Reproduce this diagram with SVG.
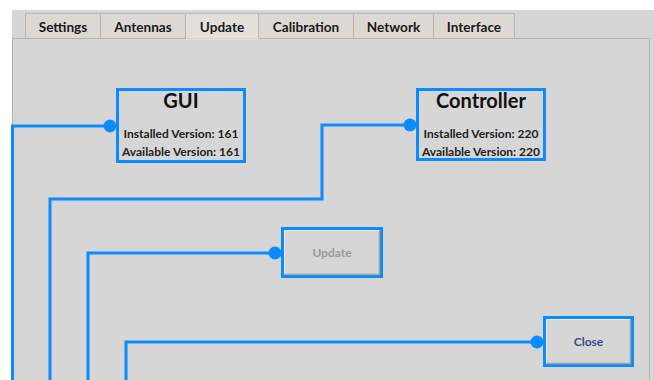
<svg xmlns="http://www.w3.org/2000/svg" width="654" height="380" viewBox="0 0 654 380">
  <style>
    .tab { fill: #dcd9d5; stroke: #b9b6b2; stroke-width: 1; }
    .tab-sel { fill: #e3e0dc; stroke: #b9b6b2; stroke-width: 1; }
    .tabtxt { font-family: Lato, "Liberation Sans", sans-serif; font-weight: bold; font-size: 13.6px; fill: #1a1a1a; text-anchor: middle; }
    .node { fill: #d6d6d6; stroke: #0a8cff; stroke-width: 3; }
    .title { font-family: Lato, "Liberation Sans", sans-serif; font-weight: bold; font-size: 20px; fill: #111; text-anchor: middle; }
    .info { font-family: Lato, "Liberation Sans", sans-serif; font-weight: bold; font-size: 12px; fill: #222; text-anchor: middle; }
    .btn { font-family: Lato, "Liberation Sans", sans-serif; font-weight: bold; font-size: 12px; text-anchor: middle; }
    .bevel-hi { fill: none; stroke: #ececec; stroke-width: 1; }
    .bevel-lo { fill: none; stroke: #a0a0a0; stroke-width: 1.5; }
    .wire { fill: none; stroke: #0a8cff; stroke-width: 3; }
    .dot { fill: #0a8cff; }
  </style>

  <!-- window background -->
  <rect x="0" y="0" width="654" height="380" fill="#ffffff"/>
  <rect x="12" y="10" width="642" height="370" fill="#d6d6d6"/>

  <!-- tab strip -->
  <g id="tabs">
    <rect class="tab" x="25.5" y="13.5" width="75" height="26"/>
    <rect class="tab" x="100.5" y="13.5" width="85" height="26"/>
    <rect class="tab-sel" x="185.5" y="13.5" width="73" height="26"/>
    <rect class="tab" x="258.5" y="13.5" width="95" height="26"/>
    <rect class="tab" x="353.5" y="13.5" width="80" height="26"/>
    <rect class="tab" x="433.5" y="13.5" width="81" height="26"/>
    <text class="tabtxt" x="63" y="32">Settings</text>
    <text class="tabtxt" x="143" y="32">Antennas</text>
    <text class="tabtxt" x="222" y="32">Update</text>
    <text class="tabtxt" x="306" y="32">Calibration</text>
    <text class="tabtxt" x="393.5" y="32">Network</text>
    <text class="tabtxt" x="474" y="32">Interface</text>
  </g>

  <!-- page panel -->
  <rect x="12.5" y="38.5" width="637" height="345" fill="#d6d6d6" stroke="#b4b4b4" stroke-width="1"/>
  <line x1="186" y1="39" x2="258" y2="39" stroke="#e3e0dc" stroke-width="1.5"/>

  <!-- connectors -->
  <g id="connectors">
    <polyline class="wire" points="110,126 12.5,126 12.5,382"/>
    <polyline class="wire" points="410,125 322,125 322,199 50,199 50,382"/>
    <polyline class="wire" points="275,253 88,253 88,382"/>
    <polyline class="wire" points="537,342 126,342 126,382"/>
    <circle class="dot" cx="110" cy="126" r="6.5"/>
    <circle class="dot" cx="410" cy="125" r="6.5"/>
    <circle class="dot" cx="275" cy="253" r="6.5"/>
    <circle class="dot" cx="537" cy="342" r="6.5"/>
  </g>

  <g id="gui">
    <rect class="node" x="117.5" y="89.5" width="127" height="72"/>
    <text class="title" x="181" y="108">GUI</text>
    <text class="info" x="181" y="138">Installed Version: 161</text>
    <text class="info" x="181" y="156">Available Version: 161</text>
  </g>

  <g id="controller">
    <rect class="node" x="417.5" y="89.5" width="127" height="70"/>
    <text class="title" x="481" y="108">Controller</text>
    <text class="info" x="481" y="138">Installed Version: 220</text>
    <text class="info" x="481" y="156">Available Version: 220</text>
  </g>

  <g id="update">
    <rect class="node" x="282.5" y="228.5" width="99" height="48"/>
    <polyline class="bevel-hi" points="284.5,274 284.5,230.5 379,230.5"/>
    <polyline class="bevel-lo" points="379.5,230.5 379.5,274.5 284.5,274.5"/>
    <text class="btn" x="332" y="257" fill="#9a9a9a">Update</text>
  </g>

  <g id="close">
    <rect class="node" x="544.5" y="317.5" width="88" height="48"/>
    <polyline class="bevel-hi" points="546.5,363 546.5,319.5 630,319.5"/>
    <polyline class="bevel-lo" points="630.5,319.5 630.5,363.5 546.5,363.5"/>
    <text class="btn" x="588.5" y="346" fill="#3a4a8c">Close</text>
  </g>
</svg>
